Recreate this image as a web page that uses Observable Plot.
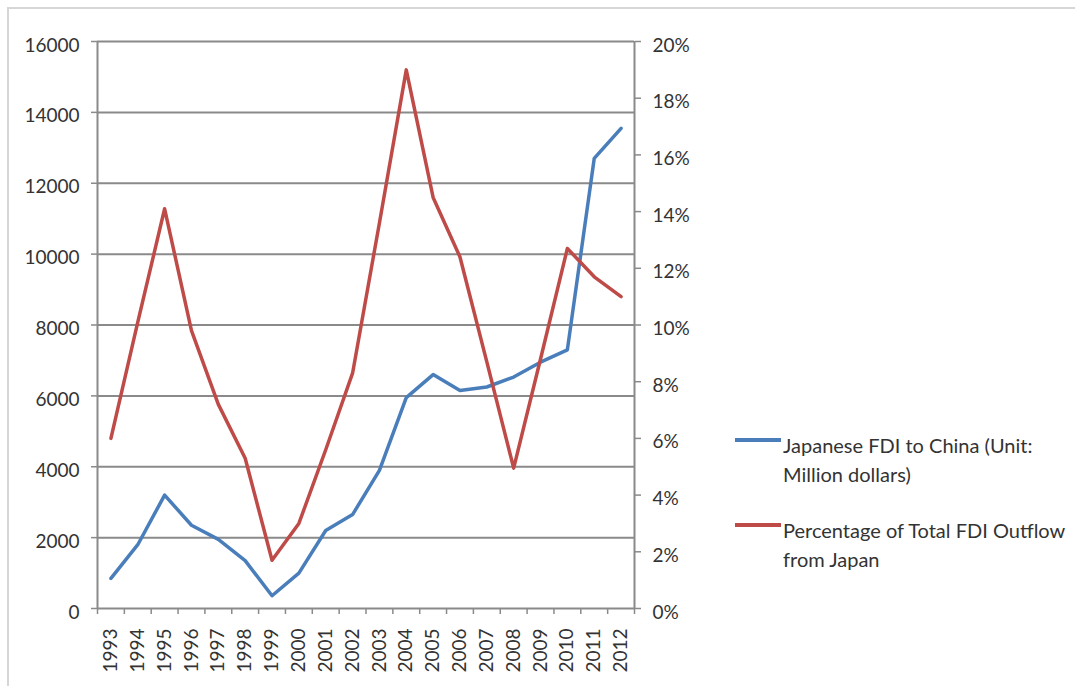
<!DOCTYPE html>
<html>
<head>
<meta charset="utf-8">
<script src="https://cdn.jsdelivr.net/npm/d3@7"></script>
<script src="https://cdn.jsdelivr.net/npm/@observablehq/plot@0.6"></script>
<style>
  html, body { margin: 0; padding: 0; background: #fff; }
  #wrap { position: relative; width: 1075px; height: 686px; overflow: hidden; font-family: Lato, "Open Sans", sans-serif; }
  #frame { position: absolute; left: 7px; top: 7px; width: 1080px; height: 690px; border-left: 2px solid #d6d6d6; border-top: 2px solid #d6d6d6; box-sizing: border-box; }
  .leg { position: absolute; left: 735px; font-size: 20px; color: #333; line-height: 29px; }
  .leg .sw { position: absolute; left: 0; width: 46px; height: 4px; }
  .leg .tx { position: absolute; left: 48px; white-space: nowrap; }
</style>
</head>
<body>
<div id="wrap">
  <div id="frame"></div>
  <div id="chart"></div>
  <div class="leg" style="top:431px;">
    <div class="sw" style="top:7px;background:#4a7ebb;"></div>
    <div class="tx">Japanese FDI to China (Unit:<br>Million dollars)</div>
  </div>
  <div class="leg" style="top:516px;">
    <div class="sw" style="top:7px;background:#be4b48;"></div>
    <div class="tx">Percentage of Total FDI Outflow<br>from Japan</div>
  </div>
</div>
<script>
const years = [1993,1994,1995,1996,1997,1998,1999,2000,2001,2002,2003,2004,2005,2006,2007,2008,2009,2010,2011,2012];
const fdiChina = [850,1800,3200,2350,1950,1350,360,1000,2200,2650,3900,5950,6600,6150,6250,6530,6950,7300,12700,13550];
const pctOutflow = [6.0,10.1,14.1,9.8,7.2,5.3,1.7,3.0,5.6,8.3,13.6,19.0,14.5,12.4,8.7,4.95,8.8,12.7,11.7,11.0];
const leftTicks = [0,2000,4000,6000,8000,10000,12000,14000,16000];
const rightTickPct = [0,2,4,6,8,10,12,14,16,18,20];

const leftMax = 16000, rightMax = 20;
const k = leftMax / rightMax;

const blueData = years.map((y, i) => ({year: y, v: fdiChina[i]}));
const redData = years.map((y, i) => ({year: y, v: pctOutflow[i]}));
const boundaries = d3.range(years.length + 1).map(i => years[0] - 0.5 + i);
const rightTicks = rightTickPct.map(p => p * k);

const gray = "#8a8a8a";
const textCol = "#333";

const chart = Plot.plot({
  width: 1075,
  height: 686,
  marginLeft: 97,
  marginRight: 441,
  marginTop: 41,
  marginBottom: 78,
  style: {fontFamily: "Lato, 'Open Sans', sans-serif", fontSize: "19px", color: textCol, background: "transparent"},
  x: {type: "linear", domain: [years[0] - 0.5, years[years.length - 1] + 0.5]},
  y: {domain: [0, leftMax]},
  marks: [
    Plot.gridY(leftTicks, {stroke: gray, strokeOpacity: 1, strokeWidth: 2}),
    Plot.ruleX([boundaries[0], boundaries[boundaries.length - 1]], {stroke: gray, strokeWidth: 2}),
    // left axis: tick marks, then labels
    Plot.axisY({ticks: leftTicks, tickFormat: () => "", tickSize: 6, label: null, stroke: gray, strokeWidth: 1.5}),
    Plot.axisY({ticks: leftTicks, tickFormat: d => String(d), tickSize: 0, tickPadding: 18, label: null, dy: 4}),
    // right axis (percent): tick marks, then labels
    Plot.axisY({anchor: "right", ticks: rightTicks, tickFormat: () => "", tickSize: 6, label: null, stroke: gray, strokeWidth: 1.5}),
    Plot.axisY({anchor: "right", ticks: rightTicks, tickFormat: d => Math.round(d / k) + "%", tickSize: 0, tickPadding: 18, label: null, dy: 4}),
    // x axis: boundary ticks and rotated year labels
    Plot.axisX({ticks: boundaries, tickFormat: () => "", tickSize: 6, label: null, stroke: gray, strokeWidth: 1.5}),
    Plot.axisX({ticks: years, tickFormat: d => String(d), tickSize: 0, tickPadding: 20, tickRotate: -90, label: null}),
    Plot.line(blueData, {x: "year", y: "v", stroke: "#4a7ebb", strokeWidth: 3.5, strokeLinejoin: "round"}),
    Plot.line(redData, {x: "year", y: d => d.v * k, stroke: "#be4b48", strokeWidth: 3.5, strokeLinejoin: "round"})
  ]
});
document.getElementById("chart").appendChild(chart);
</script>
</body>
</html>
